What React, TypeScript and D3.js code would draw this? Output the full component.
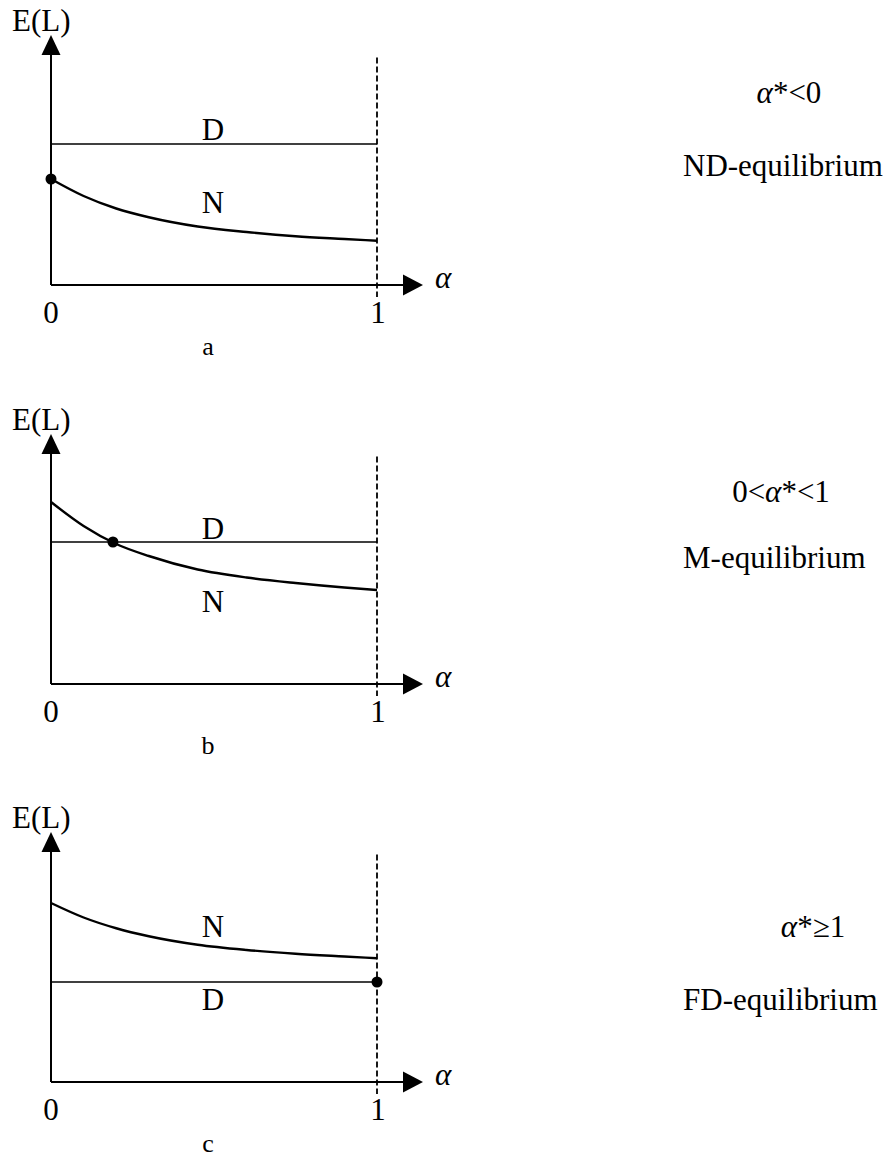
import React from "react";
import * as d3 from "d3";

// ---- data ----
const alphaGrid = [0, 0.1, 0.2, 0.3, 0.45, 0.6, 0.75, 0.9, 1];
const nCurveA = [4.24, 3.56, 3.06, 2.71, 2.34, 2.12, 1.95, 1.84, 1.77];
const nCurveB = [7.28, 6.32, 5.6, 5.12, 4.58, 4.26, 4.04, 3.86, 3.76];
const nCurveC = [7.16, 6.58, 6.15, 5.83, 5.49, 5.28, 5.13, 5.02, 4.95];
const nCurves = [nCurveA, nCurveB, nCurveC];
const dLevels = [5.64, 5.68, 4.0];
const equilibriumAlpha = [0, 0.19, 1];
const equilibriumOnD = [false, true, true];
const panelLetters = ["a", "b", "c"];
const conditionPre = ["", "0<", ""];
const conditionPost = ["*<0", "*<1", "*≥1"];
const equilibriumNames = ["ND-equilibrium", "M-equilibrium", "FD-equilibrium"];
const xTickValues = [0, 1];
const yAxisLabel = "E(L)";
const xAxisLabel = "α";
const dashTop = 9.1;

// ---- layout ----
const W = 891;
const H = 1157;
const axisYs = [285, 684, 1082];
const x0 = 51;
const x1 = 377;
const unit = 25;
const FONT = "'Liberation Serif', 'Times New Roman', serif";
const FS = 31;

const dLabelDy = [-4, -3, 28];
const nLabelBase = [213, 612, 937];
const condX = [789, 781, 813];
const condY = [103, 502, 937];
const nameY = [176, 568, 1010];

function Panel({ i }: { i: number }) {
  const axisY = axisYs[i];
  const x = d3.scaleLinear().domain([0, 1]).range([x0, x1]);
  const y = d3.scaleLinear().domain([0, 10]).range([axisY, axisY - 10 * unit]);
  const pts = alphaGrid.map((a, k) => [a, nCurves[i][k]] as [number, number]);
  const line = d3
    .line<[number, number]>()
    .x((d) => x(d[0]))
    .y((d) => y(d[1]))
    .curve(d3.curveMonotoneX);
  const arrowTipY = axisY - 250;
  const xTip = 423;
  const eqA = equilibriumAlpha[i];
  const eqY = equilibriumOnD[i] ? y(dLevels[i]) : y(nCurves[i][alphaGrid.indexOf(eqA)]);
  const dY = y(dLevels[i]);
  return (
    <g>
      <line x1={x0} y1={axisY} x2={x0} y2={arrowTipY + 18} stroke="#000" strokeWidth={2} />
      <path d={`M${x0},${arrowTipY} L${x0 - 9.5},${arrowTipY + 20} L${x0 + 9.5},${arrowTipY + 20} Z`} fill="#000" />
      <line x1={x0} y1={axisY} x2={xTip - 18} y2={axisY} stroke="#000" strokeWidth={2} />
      <path d={`M${xTip},${axisY} L${xTip - 20},${axisY - 10.5} L${xTip - 20},${axisY + 10.5} Z`} fill="#000" />
      <line x1={x(1)} y1={y(dashTop)} x2={x(1)} y2={axisY + 12} stroke="#000" strokeWidth={1.8} strokeDasharray="6,3" />
      <line x1={x(0)} y1={dY} x2={x(1)} y2={dY} stroke="#000" strokeWidth={1.6} />
      <path d={line(pts) || ""} fill="none" stroke="#000" strokeWidth={2.4} />
      <circle cx={x(eqA)} cy={eqY} r={5.5} fill="#000" />
      <text x={12} y={axisY - 254} fontSize={FS} fontFamily={FONT}>{yAxisLabel}</text>
      <text x={435} y={axisY + 3} fontSize={FS} fontFamily={FONT} fontStyle="italic">{xAxisLabel}</text>
      {xTickValues.map((t) => (
        <text key={t} x={x(t) + (t === 1 ? 1 : 0)} y={axisY + 38} fontSize={FS} fontFamily={FONT} textAnchor="middle">{String(t)}</text>
      ))}
      <text x={208} y={axisY + 70} fontSize={26} fontFamily={FONT} textAnchor="middle">{panelLetters[i]}</text>
      <text x={213} y={dY + dLabelDy[i]} fontSize={FS} fontFamily={FONT} textAnchor="middle">D</text>
      <text x={213} y={nLabelBase[i]} fontSize={FS} fontFamily={FONT} textAnchor="middle">N</text>
      <text x={condX[i]} y={condY[i]} fontSize={FS} fontFamily={FONT} textAnchor="middle">
        {conditionPre[i]}
        <tspan fontStyle="italic">α</tspan>
        {conditionPost[i]}
      </text>
      <text x={683} y={nameY[i]} fontSize={FS} fontFamily={FONT}>{equilibriumNames[i]}</text>
    </g>
  );
}

export default function App() {
  return (
    <svg
      width={W}
      height={H}
      viewBox={`0 0 ${W} ${H}`}
      style={{ position: "absolute", left: 0, top: 0, background: "#fff" }}
    >
      <rect x={0} y={0} width={W} height={H} fill="#fff" />
      {[0, 1, 2].map((i) => (
        <Panel key={i} i={i} />
      ))}
    </svg>
  );
}
